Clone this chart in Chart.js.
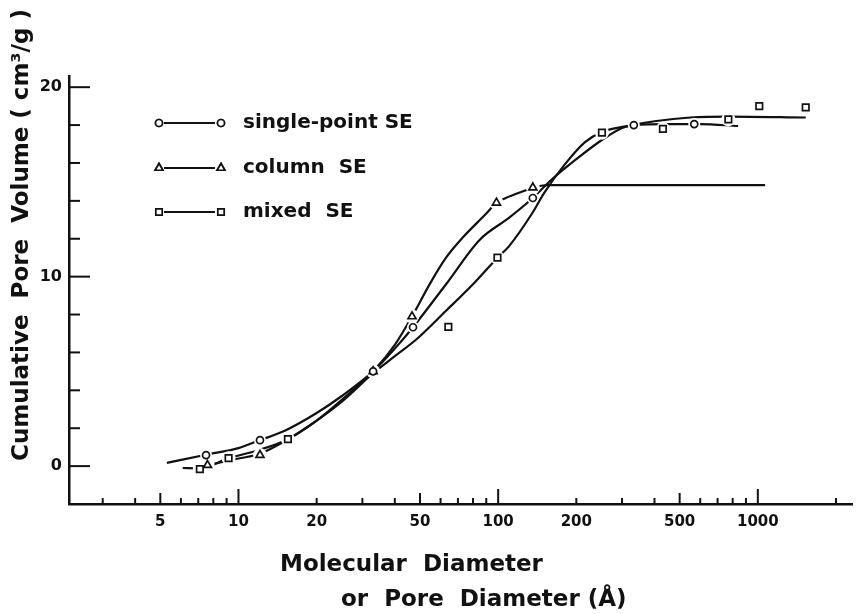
<!DOCTYPE html>
<html>
<head>
<meta charset="utf-8">
<script src="https://cdn.jsdelivr.net/npm/chart.js@4.4.1/dist/chart.umd.min.js"></script>
<style>
  html, body { margin: 0; padding: 0; background: #fff; }
  #wrap { width: 859px; height: 614px; }
</style>
</head>
<body>
<div id="wrap"><canvas id="poreChart" width="859" height="614"></canvas></div>
<script>
// tick labels
const xTickValues = [5, 10, 20, 50, 100, 200, 500, 1000];
const yTickValues = [0, 10, 20];
const xMinorTicks = [3, 4, 5, 6, 7, 8, 9, 10, 20, 30, 40, 50, 60, 70, 80, 90,
                     100, 200, 300, 400, 500, 600, 700, 800, 900, 1000, 2000];
const yMinorTicks = [2, 4, 6, 8, 12, 14, 16, 18];

// measured points (diameter in Å, volume in cm3/g)
const spDiam = [7.5, 12.1, 33, 47, 136, 333, 569];
const spVol  = [0.58, 1.37, 5.0, 7.33, 14.15, 18.0, 18.05];
const colDiam = [7.6, 12.1, 33, 46.6, 98.5, 136];
const colVol  = [0.05, 0.58, 5.0, 7.9, 13.9, 14.7];
const mixDiam = [7.1, 9.16, 15.5, 64.3, 99.4, 251, 431, 770, 1013, 1529];
const mixVol  = [-0.16, 0.42, 1.42, 7.35, 11.0, 17.6, 17.8, 18.3, 19.0, 18.93];

// hand-drawn smooth curves
const spCurveDiam = [5.3, 7.5, 10, 12.1, 15, 20, 25, 33, 40, 47, 63, 85, 110, 136, 160, 200, 250, 300, 333, 450, 600, 840];
const spCurveVol  = [0.17, 0.6, 0.95, 1.37, 1.85, 2.8, 3.7, 5.0, 6.2, 7.33, 9.6, 11.95, 13.1, 14.15, 15.1, 16.2, 17.2, 17.85, 18.0, 18.05, 18.05, 17.95];
const colCurveDiam = [7.6, 10, 12.1, 15, 20, 25, 33, 40, 46.6, 55, 63, 73.5, 90, 98.5, 107, 128, 136, 156, 400, 1067];
const colCurveVol  = [0.05, 0.4, 0.65, 1.3, 2.4, 3.5, 5.0, 6.4, 7.9, 9.7, 11.0, 12.1, 13.33, 13.9, 14.15, 14.56, 14.7, 14.83, 14.83, 14.83];
const mixCurveDiam = [6.1, 7.1, 9.16, 12, 15.5, 20, 25, 33, 40, 49, 63, 80, 99.4, 110, 136, 150, 180, 216, 251, 330, 400, 550, 770, 1530];
const mixCurveVol  = [-0.1, -0.12, 0.42, 0.85, 1.42, 2.4, 3.4, 4.9, 5.8, 6.75, 8.2, 9.6, 11.0, 11.6, 13.4, 14.4, 15.9, 17.1, 17.64, 18.0, 18.2, 18.4, 18.45, 18.4];

const ink = '#111';
const toXY = (xs, ys) => xs.map((x, i) => ({x: x, y: ys[i]}));

function curve(xs, ys) {
  return {
    data: toXY(xs, ys), showLine: true, pointRadius: 0, borderColor: ink,
    borderWidth: 2.2, cubicInterpolationMode: 'monotone', order: 3
  };
}
function halo(xs, ys, r) {
  return {
    data: toXY(xs, ys), showLine: false, pointRadius: r, pointBorderWidth: 0,
    pointBackgroundColor: '#fff', pointBorderColor: '#fff', order: 2
  };
}
function marks(xs, ys, style, r) {
  return {
    data: toXY(xs, ys), showLine: false, pointStyle: style, pointRadius: r,
    pointBorderWidth: 1.7, pointBorderColor: ink, pointBackgroundColor: '#fff', order: 1
  };
}

// tick marks, legend and axis titles drawn on top of the plot
const decor = {
  id: 'decor',
  afterDraw(chart) {
    const c = chart.ctx, xs = chart.scales.x, ys = chart.scales.y, a = chart.chartArea;
    c.save();
    c.strokeStyle = ink;
    c.lineWidth = 2;
    xMinorTicks.forEach(v => {
      const px = xs.getPixelForValue(v);
      const len = [10, 100, 1000].includes(v) ? 15 : ([5, 50, 500].includes(v) ? 11 : 6);
      c.beginPath(); c.moveTo(px, a.bottom); c.lineTo(px, a.bottom - len); c.stroke();
    });
    yTickValues.concat(yMinorTicks).forEach(v => {
      const py = ys.getPixelForValue(v);
      const len = yTickValues.includes(v) ? 21 : 11;
      c.beginPath(); c.moveTo(a.left, py); c.lineTo(a.left + len, py); c.stroke();
    });

    // legend
    const rows = [
      {label: 'single-point SE', style: 'circle', r: 3.5, y: 123},
      {label: 'column  SE', style: 'triangle', r: 4.5, y: 168},
      {label: 'mixed  SE', style: 'rect', r: 4.5, y: 212}
    ];
    c.font = 'bold 20px "DejaVu Sans"';
    c.textBaseline = 'middle';
    c.fillStyle = ink;
    rows.forEach(row => {
      c.lineWidth = 2.2;
      c.beginPath(); c.moveTo(164, row.y); c.lineTo(215, row.y); c.stroke();
      [159, 221].forEach(mx => {
        c.fillStyle = '#fff';
        c.lineWidth = 1.7;
        Chart.helpers.drawPoint(c, {pointStyle: row.style, radius: row.r, borderWidth: 1.7}, mx, row.y);
        c.fill(); c.stroke();
      });
      c.fillStyle = ink;
      c.fillText(row.label, 243, row.y);
    });

    // axis titles
    c.font = 'bold 23px "DejaVu Sans"';
    c.textAlign = 'left';
    c.fillText('Molecular  Diameter', 280, 565);
    c.fillText('or  Pore  Diameter (Å)', 341, 600);
    c.translate(22, 235);
    c.rotate(-Math.PI / 2);
    c.textAlign = 'center';
    c.fillText('Cumulative  Pore  Volume ( cm³/g )', 0, 0);
    c.restore();
  }
};

const ctx = document.getElementById('poreChart').getContext('2d');
const poreChart = new Chart(ctx, {
  type: 'scatter',
  data: {
    datasets: [
      curve(spCurveDiam, spCurveVol),
      curve(colCurveDiam, colCurveVol),
      curve(mixCurveDiam, mixCurveVol),
      halo(spDiam, spVol, 6),
      halo(colDiam, colVol, 7),
      halo(mixDiam, mixVol, 7),
      marks(spDiam, spVol, 'circle', 3.5),
      marks(colDiam, colVol, 'triangle', 4.6),
      marks(mixDiam, mixVol, 'rect', 4.6)
    ]
  },
  options: {
    responsive: false,
    animation: false,
    layout: { padding: { top: 76, right: 0, left: 0, bottom: 0 } },
    plugins: { legend: { display: false }, tooltip: { enabled: false } },
    scales: {
      x: {
        type: 'logarithmic',
        min: 2.225, max: 2305,
        afterFit: s => { s.height = 110; },
        afterBuildTicks: s => { s.ticks = xTickValues.map(v => ({value: v})); },
        grid: { display: false, drawTicks: false },
        border: { display: true, color: ink, width: 2.5 },
        ticks: {
          color: ink, padding: 9, maxRotation: 0, autoSkip: false,
          font: { family: 'DejaVu Sans', size: 15, weight: 'bold' },
          callback: v => String(v)
        }
      },
      y: {
        min: -2, max: 20.59,
        afterFit: s => { s.width = 69; },
        afterBuildTicks: s => { s.ticks = yTickValues.map(v => ({value: v})); },
        grid: { display: false, drawTicks: false },
        border: { display: true, color: ink, width: 2.5 },
        ticks: {
          color: ink, padding: 7,
          font: { family: 'DejaVu Sans', size: 16, weight: 'bold' },
          callback: v => String(v)
        }
      }
    }
  },
  plugins: [decor]
});
</script>
</body>
</html>
